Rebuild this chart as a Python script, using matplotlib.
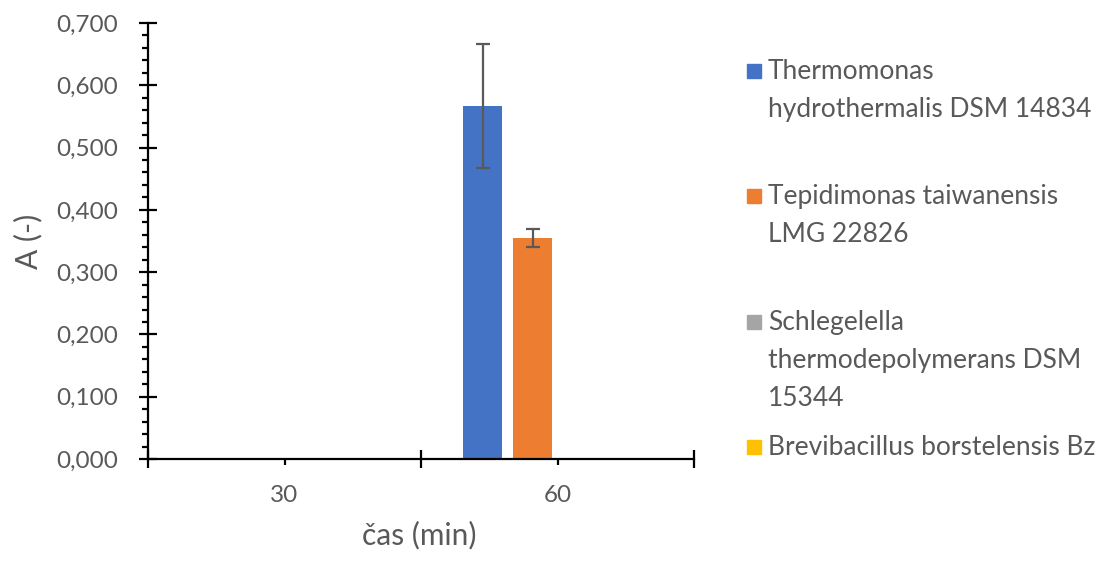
import numpy as np
import matplotlib
matplotlib.use('Agg')
import matplotlib.pyplot as plt
from matplotlib.patches import Rectangle
from matplotlib.ticker import FuncFormatter, MultipleLocator


CATEGORIES = ['30', '60']
SERIES = [
    'Thermomonas\nhydrothermalis DSM 14834',
    'Tepidimonas taiwanensis\nLMG 22826',
    'Schlegelella\nthermodepolymerans DSM\n15344',
    'Brevibacillus borstelensis Bz',
]
VALUES = [
    [0.0, 0.567],
    [0.0, 0.355],
    [0.0, 0.0],
    [0.0, 0.0],
]
ERRORS = [
    [0.0, 0.099],
    [0.0, 0.015],
    [0.0, 0.0],
    [0.0, 0.0],
]
COLORS = ['#4472C4', '#ED7D31', '#A5A5A5', '#FFC000']

TEXT = '#595959'
FONT = 'Lato'
FS = 17.5
FS_TITLE = 21.5
FS_LEG = 19


def main():
    plt.rcParams['font.family'] = [FONT, 'DejaVu Sans']
    fig = plt.figure(figsize=(11.08, 5.63), dpi=100)
    ax = fig.add_axes([148 / 1108, 104 / 563, 546 / 1108, 436 / 563])

    x = np.arange(len(CATEGORIES))
    width = 0.143
    step = 0.183
    n = len(SERIES)
    for i in range(n):
        off = (i - (n - 1) / 2) * step
        vals = np.array(VALUES[i])
        errs = np.array(ERRORS[i])
        ax.bar(x + off, vals, width, color=COLORS[i], zorder=2)
        m = errs > 0
        if m.any():
            ax.errorbar(x[m] + off, vals[m], yerr=errs[m], fmt='none',
                        ecolor=TEXT, elinewidth=1.6, capsize=4.7,
                        capthick=1.6, zorder=3)

    ax.set_xlim(-0.5, 1.5)
    ax.set_ylim(0, 0.7)
    for s in ['top', 'right']:
        ax.spines[s].set_visible(False)
    for s in ['left', 'bottom']:
        ax.spines[s].set_linewidth(1.6)

    ax.yaxis.set_major_locator(MultipleLocator(0.1))
    ax.yaxis.set_minor_locator(MultipleLocator(0.02))
    ax.yaxis.set_major_formatter(
        FuncFormatter(lambda v, p: f'{v:.3f}'.replace('.', ',')))
    ax.tick_params(axis='y', which='major', direction='inout', length=13.5,
                   width=1.6, pad=14.5, labelsize=FS, labelcolor=TEXT)
    ax.tick_params(axis='y', which='minor', direction='out', length=4.3,
                   width=1.6)

    ax.set_xticks([-0.5, 0.5, 1.5])
    ax.set_xticklabels([])
    ax.set_xticks(x, minor=True)
    ax.set_xticklabels(CATEGORIES, minor=True)
    ax.tick_params(axis='x', which='major', direction='inout', length=13.5,
                   width=1.6)
    ax.tick_params(axis='x', which='minor', direction='out', length=4,
                   width=1.6, pad=15, labelsize=FS, labelcolor=TEXT)

    ax.set_ylabel('A (-)', fontsize=FS_TITLE, color=TEXT)
    ax.yaxis.set_label_coords(-0.194, 0.5)
    ax.set_xlabel('čas (min)', fontsize=FS_TITLE, color=TEXT)
    ax.xaxis.set_label_coords(0.497, -0.142)

    # legend drawn by hand, Excel style (marker on the first line)
    first_line_y = [71, 196, 322, 447]
    for i in range(n):
        yc = 1 - first_line_y[i] / 563
        fig.patches.append(Rectangle((747 / 1108, yc - 7 / 563), 14 / 1108,
                                     14 / 563, transform=fig.transFigure,
                                     color=COLORS[i]))
        fig.text(768 / 1108, yc + 12 / 563, SERIES[i], fontsize=FS_LEG,
                 color=TEXT, va='top', ha='left', linespacing=1.66)

    fig.savefig('out.png', dpi=100)


if __name__ == '__main__':
    main()
